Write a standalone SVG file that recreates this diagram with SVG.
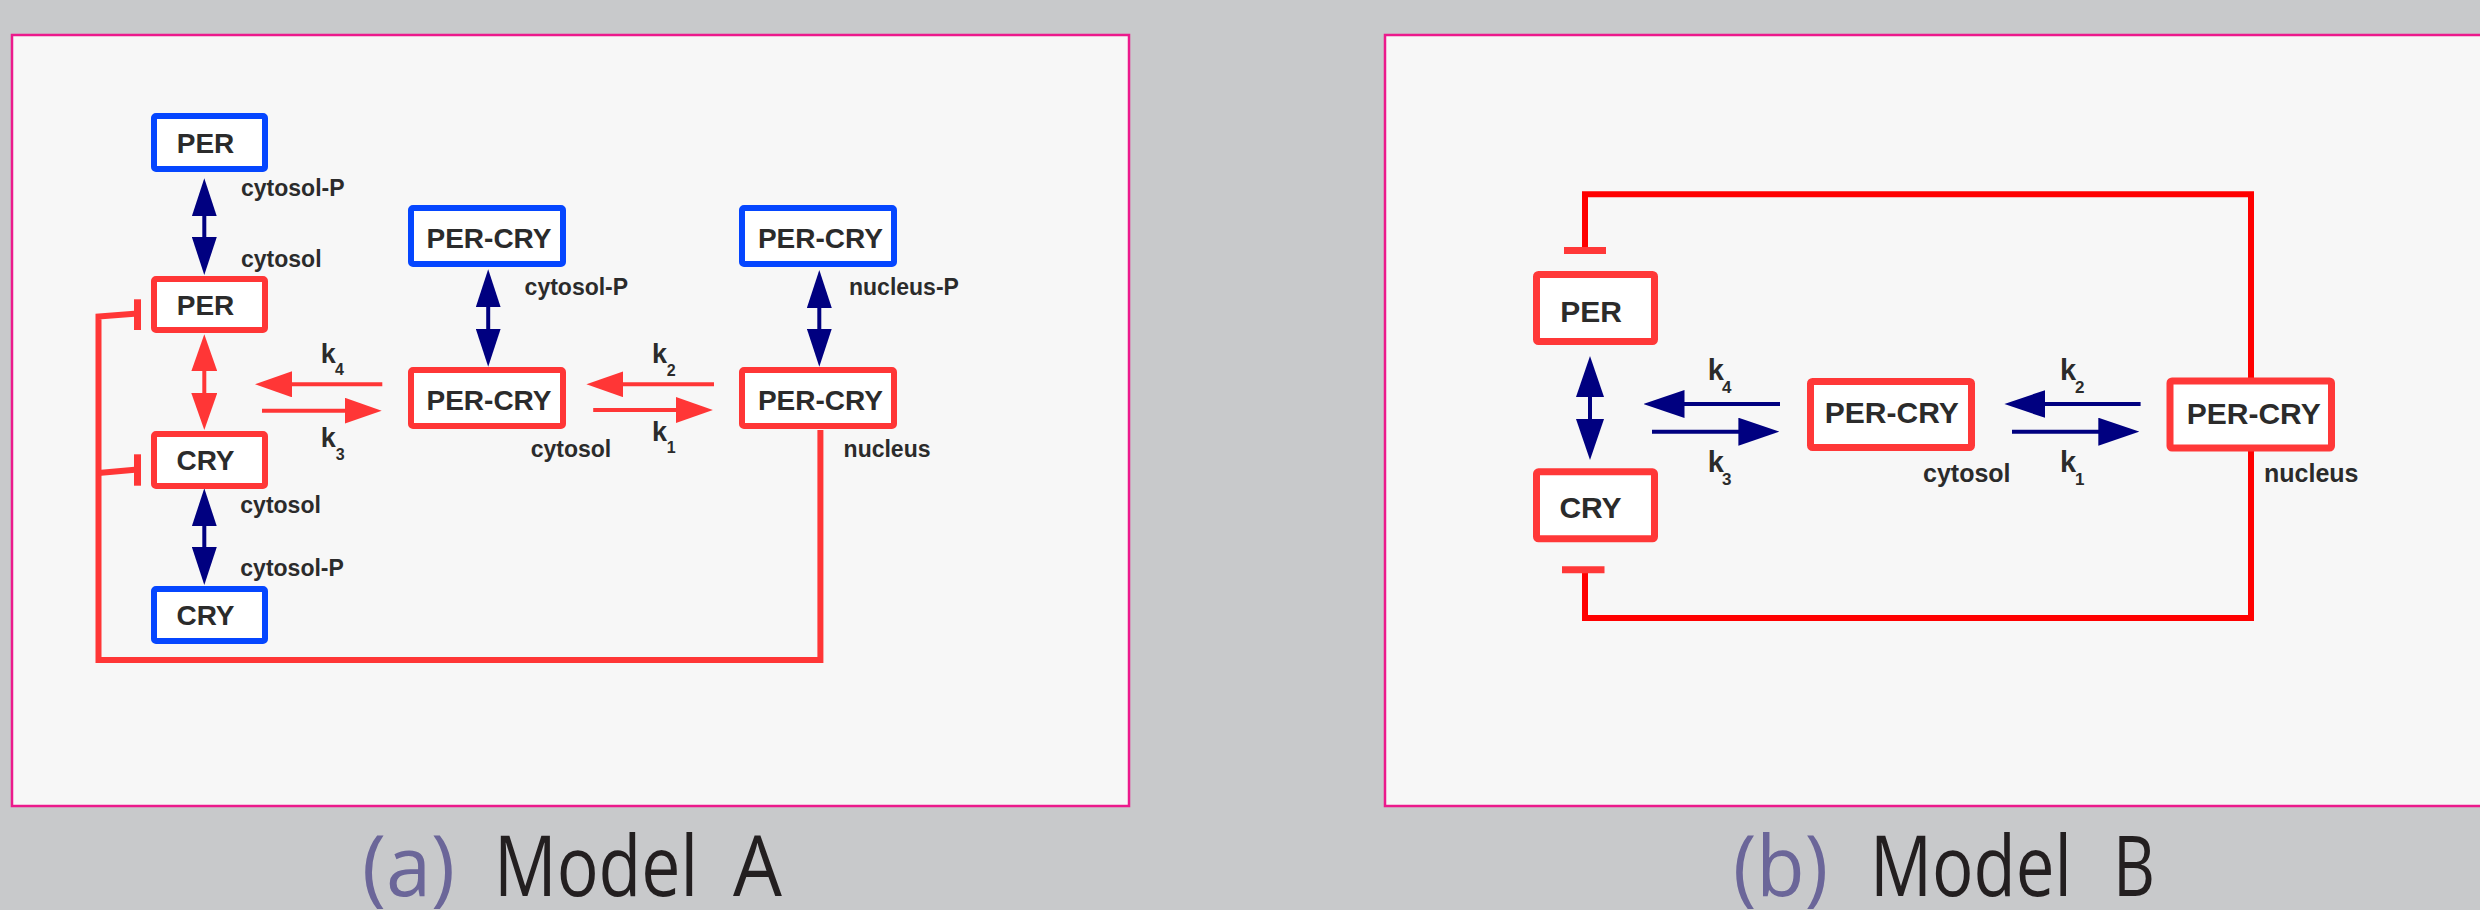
<svg xmlns="http://www.w3.org/2000/svg" width="2480" height="910" viewBox="0 0 2480 910">
<defs>
<style>
.panel{fill:#f7f7f7;stroke:#ec1a8c;stroke-width:2.5}
.boxR{fill:#ffffff;stroke:#ff3636;stroke-width:6}
.boxB{fill:#ffffff;stroke:#0546ff;stroke-width:6}
.boxRB{fill:#ffffff;stroke:#ff3838;stroke-width:7}
.lbl{font-family:"Liberation Sans",Arial,sans-serif;font-weight:bold;fill:#2b2b2b}
.nodeA{font-size:28px;text-anchor:middle}
.nodeB{font-size:30px;text-anchor:middle}
.locA{font-size:23px}
.locB{font-size:25px}
.kA{font-size:27px}
.subA{font-size:16px}
.kB{font-size:29px}
.subB{font-size:17px}
.navyA{stroke:#000080;stroke-width:4;fill:none}
.redA{stroke:#ff3636;stroke-width:4;fill:none}
.inhA{stroke:#ff3636;stroke-width:6;fill:none;stroke-linejoin:miter}
.barA{stroke:#ff3636;stroke-width:7;fill:none}
.inhB{stroke:#ff0000;stroke-width:6;fill:none;stroke-linejoin:miter}
.barB{stroke:#ff3838;stroke-width:7;fill:none}
.cap{font-family:"Open Sans","Liberation Sans",sans-serif;font-size:84px}
</style>
<marker id="mNavyA" markerUnits="userSpaceOnUse" markerWidth="38" markerHeight="25" viewBox="0 0 38 25" refX="30" refY="12.5" orient="auto-start-reverse"><path d="M0,0 L38,12.5 L0,25 Z" fill="#000080"/></marker>
<marker id="mRedA" markerUnits="userSpaceOnUse" markerWidth="37" markerHeight="26" viewBox="0 0 37 26" refX="29" refY="13" orient="auto-start-reverse"><path d="M0,0 L37,13 L0,26 Z" fill="#ff3636"/></marker>
<marker id="mNavyB" markerUnits="userSpaceOnUse" markerWidth="41" markerHeight="28" viewBox="0 0 41 28" refX="33" refY="14" orient="auto-start-reverse"><path d="M0,0 L41,14 L0,28 Z" fill="#000080"/></marker>
</defs>
<rect x="0" y="0" width="2480" height="910" fill="#c8c9cb"/>
<rect class="panel" x="12" y="35" width="1117" height="771"/>
<rect class="panel" x="1385" y="35" width="1110" height="771"/>

<g id="connectors">
<!-- Model A -->
<line class="navyA" x1="204.3" y1="186.3" x2="204.3" y2="267" marker-start="url(#mNavyA)" marker-end="url(#mNavyA)"/>
<line class="navyA" x1="204.3" y1="496.3" x2="204.3" y2="577" marker-start="url(#mNavyA)" marker-end="url(#mNavyA)"/>
<line class="navyA" x1="488.2" y1="277.3" x2="488.2" y2="358.7" marker-start="url(#mNavyA)" marker-end="url(#mNavyA)"/>
<line class="navyA" x1="819.3" y1="278" x2="819.3" y2="358.7" marker-start="url(#mNavyA)" marker-end="url(#mNavyA)"/>
<line class="redA" x1="204.3" y1="342.3" x2="204.3" y2="422" marker-start="url(#mRedA)" marker-end="url(#mRedA)"/>
<line class="redA" x1="382.3" y1="384.3" x2="263" y2="384.3" marker-end="url(#mRedA)"/>
<line class="redA" x1="262" y1="410.7" x2="373.7" y2="410.7" marker-end="url(#mRedA)"/>
<line class="redA" x1="714" y1="384.3" x2="594.4" y2="384.3" marker-end="url(#mRedA)"/>
<line class="redA" x1="593.2" y1="410" x2="704.9" y2="410" marker-end="url(#mRedA)"/>
<path class="inhA" d="M137.5,313.5 L98.5,316.5 L98.5,660 L820.4,660 L820.4,430"/>
<path class="inhA" d="M98.5,473 L137.5,469.5"/>
<line class="barA" x1="137.5" y1="299.3" x2="137.5" y2="330"/>
<line class="barA" x1="137.5" y1="454.3" x2="137.5" y2="485.7"/>
<!-- Model B -->
<line class="navyA" x1="1590" y1="364" x2="1590" y2="452" marker-start="url(#mNavyB)" marker-end="url(#mNavyB)"/>
<line class="navyA" x1="1780" y1="404" x2="1651.5" y2="404" marker-end="url(#mNavyB)"/>
<line class="navyA" x1="1652" y1="431.7" x2="1771.4" y2="431.7" marker-end="url(#mNavyB)"/>
<line class="navyA" x1="2140.6" y1="404" x2="2012.4" y2="404" marker-end="url(#mNavyB)"/>
<line class="navyA" x1="2012" y1="431.7" x2="2131.3" y2="431.7" marker-end="url(#mNavyB)"/>
<path class="inhB" d="M1585,250 L1585,194.3 L2251,194.3 L2251,618 L1585,618 L1585,570"/>
<line class="barB" x1="1564" y1="250.5" x2="1606" y2="250.5"/>
<line class="barB" x1="1562" y1="569.7" x2="1604.5" y2="569.7"/>
</g>

<!-- Model A nodes -->
<g id="A_PER_P"><rect class="boxB" x="154" y="116" width="111" height="53" rx="2"/><text class="lbl nodeA" x="205.5" y="153.3">PER</text></g>
<g id="A_PER"><rect class="boxR" x="154" y="279" width="111" height="51" rx="2"/><text class="lbl nodeA" x="205.5" y="315">PER</text></g>
<g id="A_CRY"><rect class="boxR" x="154" y="434" width="111" height="52" rx="2"/><text class="lbl nodeA" x="205.5" y="470">CRY</text></g>
<g id="A_CRY_P"><rect class="boxB" x="154" y="589" width="111" height="52" rx="2"/><text class="lbl nodeA" x="205.5" y="625">CRY</text></g>
<g id="A_PERCRY_cytP"><rect class="boxB" x="411" y="208" width="152" height="56" rx="2"/><text class="lbl nodeA" x="489" y="248.3">PER-CRY</text></g>
<g id="A_PERCRY_cyt"><rect class="boxR" x="411" y="370" width="152" height="56" rx="2"/><text class="lbl nodeA" x="489" y="410">PER-CRY</text></g>
<g id="A_PERCRY_nucP"><rect class="boxB" x="742" y="208" width="152" height="56" rx="2"/><text class="lbl nodeA" x="820.4" y="248.3">PER-CRY</text></g>
<g id="A_PERCRY_nuc"><rect class="boxR" x="742" y="370" width="152" height="56" rx="2"/><text class="lbl nodeA" x="820.4" y="410">PER-CRY</text></g>

<g id="A_labels">
<text class="lbl locA" x="241" y="196">cytosol-P</text>
<text class="lbl locA" x="241" y="266.7">cytosol</text>
<text class="lbl locA" x="240.3" y="513">cytosol</text>
<text class="lbl locA" x="240.3" y="576">cytosol-P</text>
<text class="lbl locA" x="524.6" y="295">cytosol-P</text>
<text class="lbl locA" x="530.7" y="456.7">cytosol</text>
<text class="lbl locA" x="849" y="295">nucleus-P</text>
<text class="lbl locA" x="843.6" y="456.7">nucleus</text>
<text class="lbl kA" x="320.7" y="362.7">k</text><text class="lbl subA" x="335" y="375">4</text>
<text class="lbl kA" x="320.7" y="446.7">k</text><text class="lbl subA" x="335.7" y="460">3</text>
<text class="lbl kA" x="652" y="363.3">k</text><text class="lbl subA" x="666.8" y="376">2</text>
<text class="lbl kA" x="652" y="440.7">k</text><text class="lbl subA" x="666.8" y="453.3">1</text>
</g>

<!-- Model B nodes -->
<g id="B_PER"><rect class="boxRB" x="1536.5" y="274.5" width="118" height="67" rx="2"/><text class="lbl nodeB" x="1591" y="321.7">PER</text></g>
<g id="B_CRY"><rect class="boxRB" x="1536.5" y="471.8" width="118" height="67" rx="2"/><text class="lbl nodeB" x="1590.5" y="518.3">CRY</text></g>
<g id="B_PERCRY_cyt"><rect class="boxRB" x="1810.5" y="381.5" width="161" height="66" rx="2"/><text class="lbl nodeB" x="1891.8" y="423.3">PER-CRY</text></g>
<g id="B_PERCRY_nuc"><rect class="boxRB" x="2170" y="381" width="161.5" height="67" rx="2"/><text class="lbl nodeB" x="2253.7" y="424">PER-CRY</text></g>

<g id="B_labels">
<text class="lbl locB" x="1923" y="481.7">cytosol</text>
<text class="lbl locB" x="2264" y="481.7">nucleus</text>
<text class="lbl kB" x="1707.8" y="380">k</text><text class="lbl subB" x="1722" y="393.3">4</text>
<text class="lbl kB" x="1707.8" y="471.7">k</text><text class="lbl subB" x="1722" y="485">3</text>
<text class="lbl kB" x="2060" y="380">k</text><text class="lbl subB" x="2075" y="393.3">2</text>
<text class="lbl kB" x="2060" y="472">k</text><text class="lbl subB" x="2075" y="485">1</text>
</g>

<g id="captions">
<text class="cap" x="362" y="896" fill="#6b6699" textLength="93" lengthAdjust="spacingAndGlyphs">(a)</text>
<text class="cap" x="494" y="896" fill="#231f20" textLength="204" lengthAdjust="spacingAndGlyphs">Model</text>
<text class="cap" x="733" y="896" fill="#231f20" textLength="49" lengthAdjust="spacingAndGlyphs">A</text>
<text class="cap" x="1733" y="896" fill="#6b6699" textLength="95" lengthAdjust="spacingAndGlyphs">(b)</text>
<text class="cap" x="1870" y="896" fill="#231f20" textLength="202" lengthAdjust="spacingAndGlyphs">Model</text>
<text class="cap" x="2113" y="896" fill="#231f20" textLength="42" lengthAdjust="spacingAndGlyphs">B</text>
</g>
</svg>
